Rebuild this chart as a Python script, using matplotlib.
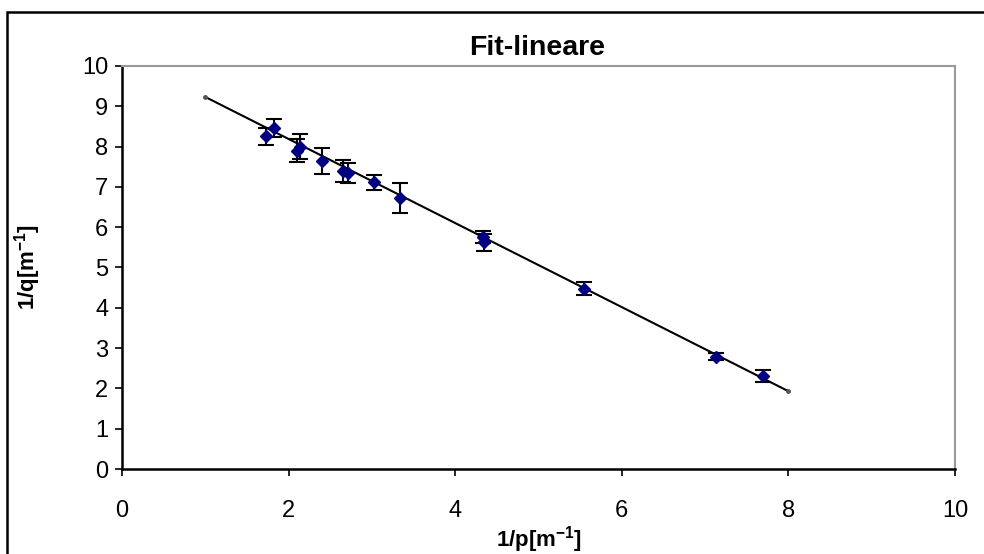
import matplotlib
matplotlib.use("Agg")
import matplotlib.pyplot as plt
from matplotlib.patches import Rectangle

plt.rcParams['font.family'] = ['Liberation Sans', 'DejaVu Sans']
plt.rcParams['mathtext.fontset'] = 'custom'
plt.rcParams['mathtext.rm'] = 'Liberation Sans'
plt.rcParams['mathtext.bf'] = 'Liberation Sans:bold'

# Measurements: 1/p, 1/q and the uncertainty on 1/q
inv_p = [1.73, 1.82, 2.10, 2.14, 2.40, 2.65, 2.71, 3.03, 3.34, 4.33, 4.35, 5.55, 7.13, 7.69]
inv_q = [8.25, 8.46, 7.90, 8.00, 7.64, 7.40, 7.34, 7.11, 6.72, 5.76, 5.62, 4.47, 2.79, 2.31]
err_q = [0.20, 0.23, 0.29, 0.30, 0.32, 0.27, 0.25, 0.19, 0.37, 0.15, 0.20, 0.16, 0.08, 0.15]

# Linear fit endpoints
fit_x = [1.0, 8.0]
fit_y = [9.23, 1.93]

x_ticks = [0, 2, 4, 6, 8, 10]
y_ticks = [0, 1, 2, 3, 4, 5, 6, 7, 8, 9, 10]

fig = plt.figure(figsize=(9.84, 5.54), dpi=100)
ax = fig.add_axes([0.124, 0.1534, 0.8466, 0.7276])

ax.plot(fit_x, fit_y, color='black', lw=1.5, marker='o', markersize=2.5,
        markerfacecolor='#555555', markeredgecolor='#555555', zorder=2)
ax.errorbar(inv_p, inv_q, yerr=err_q, fmt='D', color='#000080', markersize=6.5,
            markeredgecolor='#000080', ecolor='black', elinewidth=1.5,
            capsize=5.5, capthick=1.5, zorder=3)

ax.set_xlim(0, 10)
ax.set_ylim(0, 10)
ax.set_xticks(x_ticks)
ax.set_yticks(y_ticks)
ax.tick_params(direction='out', length=5, width=1.2, labelsize=17)
ax.tick_params(axis='y', pad=5)
ax.tick_params(axis='x', pad=17)

for side in ('left', 'bottom'):
    ax.spines[side].set_color('black')
    ax.spines[side].set_linewidth(1.8)
for side in ('top', 'right'):
    ax.spines[side].set_color('#999999')
    ax.spines[side].set_linewidth(1.5)

ax.set_xlabel(r'1/p[m$^{\mathbf{-1}}$]', fontsize=16, fontweight='bold', labelpad=2)
ax.set_ylabel(r'1/q[m$^{\mathbf{-1}}$]', fontsize=16, fontweight='bold', labelpad=28)
fig.text(0.546, 0.914, 'Fit-lineare', ha='center', va='center',
         fontsize=20.5, fontweight='bold')

# Chart frame
fig.patches.append(Rectangle((7 / 984, -0.2), 1.2, 1.2 - 12 / 554,
                             transform=fig.transFigure, fill=False,
                             edgecolor='black', linewidth=1.8))

fig.savefig('out.png', dpi=100)
